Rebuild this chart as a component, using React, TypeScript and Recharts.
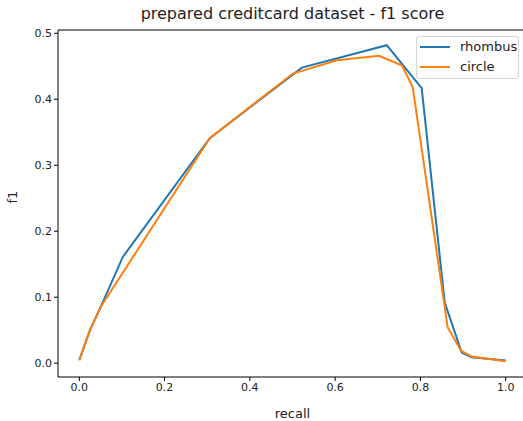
import React from "react";
import { LineChart, Line, XAxis, YAxis, ReferenceLine } from "recharts";

const rhombusRecall = [0, 0.025, 0.05, 0.102, 0.306, 0.522, 0.721, 0.803, 0.857, 0.897, 0.92, 1.0];
const rhombusF1 = [0.005, 0.05, 0.085, 0.161, 0.341, 0.448, 0.482, 0.417, 0.092, 0.016, 0.009, 0.004];

const circleRecall = [0, 0.025, 0.05, 0.306, 0.501, 0.604, 0.703, 0.757, 0.782, 0.864, 0.895, 0.92, 1.0];
const circleF1 = [0.004, 0.05, 0.085, 0.341, 0.439, 0.459, 0.466, 0.451, 0.418, 0.054, 0.019, 0.01, 0.003];

const seriesNames = ["rhombus", "circle"];
const seriesColors = ["#1f77b4", "#ff7f0e"];

const xTicks = [0, 0.2, 0.4, 0.6, 0.8, 1.0];
const yTicks = [0, 0.1, 0.2, 0.3, 0.4, 0.5];

const rhombusData = rhombusRecall.map((r, i) => ({ recall: r, f1: rhombusF1[i] }));
const circleData = circleRecall.map((r, i) => ({ recall: r, f1: circleF1[i] }));

const FONT = "DejaVu Sans, sans-serif";

// matplotlib-style legend box, top right of the axes
const LegendBox = () => (
  <div
    style={{
      position: "absolute",
      left: 416,
      top: 36,
      width: 103,
      height: 43,
      boxSizing: "border-box",
      border: "1px solid #d6d6d6",
      borderRadius: 3,
      background: "rgba(255,255,255,0.8)",
      padding: "0 0 0 3px",
      fontFamily: FONT,
      fontSize: 13,
      color: "#222",
      lineHeight: "20px",
    }}
  >
    {seriesNames.map((name, i) => (
      <div key={name} style={{ display: "flex", alignItems: "center", height: 20 }}>
        <span
          style={{
            display: "inline-block",
            width: 30,
            height: 2,
            background: seriesColors[i],
            marginRight: 10,
          }}
        />
        {name}
      </div>
    ))}
  </div>
);

export default function App() {
  return (
    <div
      style={{
        position: "absolute",
        left: 0,
        top: 0,
        width: 523,
        height: 421,
        overflow: "hidden",
        background: "#fff",
      }}
    >
      <div
        style={{
          position: "absolute",
          top: 4,
          left: 58,
          width: 469,
          textAlign: "center",
          fontFamily: FONT,
          fontSize: 16,
          color: "#222",
        }}
      >
        prepared creditcard dataset - f1 score
      </div>
      <LineChart
        width={530}
        height={421}
        margin={{ top: 30, right: 3, bottom: 0, left: 0 }}
        style={{ fontFamily: FONT }}
      >
        <XAxis
          dataKey="recall"
          type="number"
          domain={[-0.05, 1.05]}
          ticks={xTicks}
          tickFormatter={(v: number) => v.toFixed(1)}
          allowDuplicatedCategory={false}
          height={44}
          stroke="#000"
          tickSize={4}
          tick={{ fill: "#222", fontSize: 11 }}
          label={{ value: "recall", position: "insideBottom", offset: 3, fill: "#222", fontSize: 13 }}
        />
        <YAxis
          type="number"
          domain={[-0.021, 0.505]}
          ticks={yTicks}
          tickFormatter={(v: number) => v.toFixed(1)}
          width={58}
          stroke="#000"
          tickSize={4}
          tick={{ fill: "#222", fontSize: 11 }}
          label={{ value: "f1", angle: -90, position: "insideLeft", offset: 12, fill: "#222", fontSize: 13 }}
        />
        <ReferenceLine y={0.505} stroke="#000" strokeWidth={1} />
        <Line
          data={rhombusData}
          dataKey="f1"
          name={seriesNames[0]}
          stroke={seriesColors[0]}
          strokeWidth={2}
          dot={false}
          type="linear"
          isAnimationActive={false}
        />
        <Line
          data={circleData}
          dataKey="f1"
          name={seriesNames[1]}
          stroke={seriesColors[1]}
          strokeWidth={2}
          dot={false}
          type="linear"
          isAnimationActive={false}
        />
      </LineChart>
      <LegendBox />
    </div>
  );
}
